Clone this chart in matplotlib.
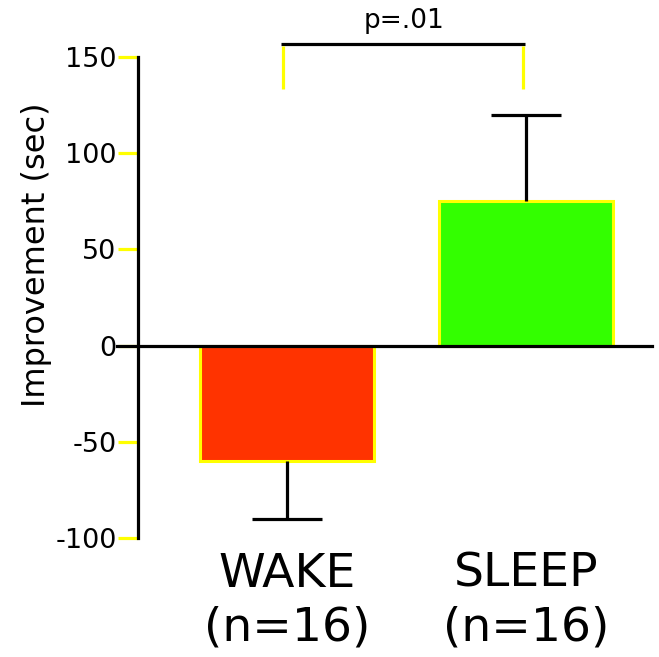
import matplotlib
matplotlib.use("Agg")
import matplotlib.pyplot as plt

categories = ["WAKE\n(n=16)", "SLEEP\n(n=16)"]
means = [-60, 75]
err_down = [30, 0]
err_up = [0, 45]
yticks = [-100, -50, 0, 50, 100, 150]
p_label = "p=.01"

bar_colors = ["#FF3300", "#33FF00"]

plt.rcParams['font.family'] = ['DejaVu Sans']

fig = plt.figure(figsize=(6.59, 6.57), dpi=100)
top_px, bot_px = 57, 538
ax = fig.add_axes([138/659, 1-bot_px/657, 514/659, (bot_px-top_px)/657])

x = list(range(len(categories)))
ax.bar(x, means, width=0.728, color=bar_colors, edgecolor="#FFFF00", linewidth=2.2, zorder=2)

# one-sided error bars (drawn from the means and errors)
cap_half = 0.146
for xi, m, dn, up in zip(x, means, err_down, err_up):
    if dn > 0:
        end = m - dn
    else:
        end = m + up
    ax.plot([xi, xi], [m, end], color='black', linewidth=2.3, zorder=3, solid_capstyle='butt')
    ax.plot([xi - cap_half, xi + cap_half], [end, end], color='black', linewidth=2.3, zorder=3,
            solid_capstyle='butt')

ax.set_xlim(-0.6234, 1.527)
ax.set_ylim(-100, 150)

ax.axhline(0, xmin=-0.04, xmax=1.0, color='black', linewidth=2.3, clip_on=False, zorder=4)

for s in ['top', 'right', 'bottom']:
    ax.spines[s].set_visible(False)
ax.spines['left'].set_linewidth(2.3)
ax.spines['left'].set_bounds(-100, 150)

ax.set_yticks(yticks)
ax.set_yticklabels([str(v) for v in yticks], fontsize=19.5)
ax.tick_params(axis='y', length=14.4, width=2.3, color='#FFFF00', pad=1)

ax.set_xticks(x)
ax.set_xticklabels(categories, fontsize=34, linespacing=1.25)
ax.tick_params(axis='x', length=0, pad=10)

fig.text(37/659, 1-255/657, "Improvement (sec)", rotation=90, ha='center', va='center', fontsize=23)

# significance bracket
ax.plot([-0.025, 0.996], [156.8, 156.8], color='black', linewidth=2.3, clip_on=False, solid_capstyle='butt')
ax.plot([-0.017, -0.017], [155.5, 133.3], color='#FFFF00', linewidth=2.3, clip_on=False,
        solid_capstyle='butt')
ax.plot([0.987, 0.987], [155.5, 133.3], color='#FFFF00', linewidth=2.3, clip_on=False,
        solid_capstyle='butt')
ax.text(0.49, 168.75, p_label, ha='center', va='center', fontsize=19)

fig.savefig("out.png", dpi=100)
